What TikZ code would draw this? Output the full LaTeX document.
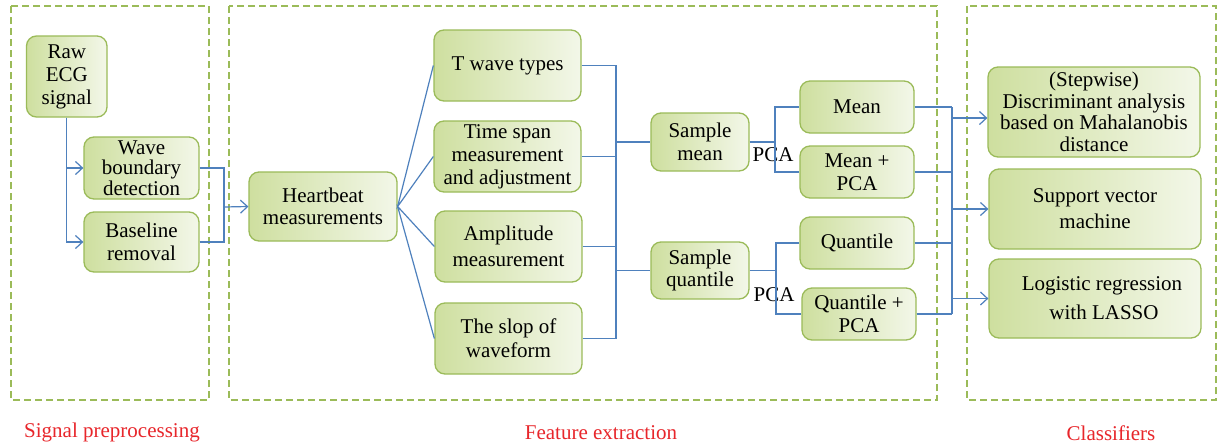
\documentclass[tikz,border=0pt]{standalone}
\usepackage{fontspec}
\newfontfamily\myserif{Liberation Serif}
\usetikzlibrary{arrows.meta}
\definecolor{gborder}{HTML}{9BBB59}
\definecolor{gleft}{HTML}{CEDF9F}
\definecolor{gright}{HTML}{F3F7E9}
\definecolor{conn}{HTML}{4F81BD}
\definecolor{lab}{HTML}{E8262B}
\tikzset{
  box/.style={draw=gborder, line width=1.3pt, rounded corners=10pt, left color=gleft, right color=gright,
    align=center, inner sep=0pt, font=\myserif\fontsize{21}{22.5}\selectfont, text=black},
  frame/.style={draw=gborder, line width=1.1pt, dash pattern=on 7pt off 4pt},
  conn/.style={draw=conn, line width=1.2pt},
  arr/.style={conn, -{Straight Barb[length=7pt,width=13pt,line width=1.2pt]}},
  grouplabel/.style={text=lab, font=\myserif\fontsize{21}{22}\selectfont},
  pcalabel/.style={font=\myserif\fontsize{21}{22}\selectfont, inner sep=0pt}
}
\begin{document}
\begin{tikzpicture}[x=1pt,y=-1pt]
\useasboundingbox[fill=white] (0,0) rectangle (1217,447);
% frames
\draw[frame] (11,6) rectangle (209,400);
\draw[frame] (229,6) rectangle (937,400);
\draw[frame] (967,6) rectangle (1216,400);
% nodes
\node[box, minimum width=80.5pt, minimum height=81pt, font=\myserif\fontsize{21}{23}\selectfont] (raw) at (66.75,76.5) {Raw\\ECG\\signal};
\node[box, minimum width=115pt, minimum height=62pt, font=\myserif\fontsize{21}{20.5}\selectfont] (wave) at (141.5,168) {Wave\\boundary\\detection};
\node[box, minimum width=115pt, minimum height=60pt] (base) at (141.5,242) {Baseline\\removal};
\node[box, minimum width=148pt, minimum height=69pt] (heart) at (323,206.5) {Heartbeat\\measurements};
\node[box, minimum width=147pt, minimum height=71pt] (twave) at (507.5,65.5) {T wave types};
\node[box, minimum width=147pt, minimum height=71pt, font=\myserif\fontsize{21}{23}\selectfont] (time) at (507.5,156.5) {Time span\\measurement\\and adjustment};
\node[box, minimum width=147pt, minimum height=71pt, font=\myserif\fontsize{21}{26}\selectfont] (ampl) at (508.5,246.5) {Amplitude\\measurement};
\node[box, minimum width=147pt, minimum height=71pt, font=\myserif\fontsize{21}{24}\selectfont] (slop) at (508.5,338.5) {The slop of\\waveform};
\node[box, minimum width=98pt, minimum height=58pt] (smean) at (700,142) {Sample\\mean};
\node[box, minimum width=98pt, minimum height=57pt] (squant) at (700,270.5) {Sample\\quantile};
\node[box, minimum width=114pt, minimum height=52pt] (mean) at (857,107) {Mean};
\node[box, minimum width=114pt, minimum height=52pt] (meanpca) at (857,172) {Mean +\\PCA};
\node[box, minimum width=114pt, minimum height=52pt] (quant) at (857,243) {Quantile};
\node[box, minimum width=114pt, minimum height=52pt, font=\myserif\fontsize{21}{23.5}\selectfont] (quantpca) at (859,314) {Quantile +\\PCA};
\node[box, minimum width=212pt, minimum height=90pt, font=\myserif\fontsize{21}{21.5}\selectfont] (step) at (1094,112) {(Stepwise)\\Discriminant analysis\\based on Mahalanobis\\distance};
\node[box, minimum width=212pt, minimum height=80pt, font=\myserif\fontsize{21}{26}\selectfont] (svm) at (1095,209) {Support vector\\machine};
\node[box, minimum width=212pt, minimum height=79pt, font=\myserif\fontsize{21}{29}\selectfont] (logit) at (1095,298.5) {\hspace*{14pt}Logistic regression\\\hspace*{18pt}with LASSO};
% PCA labels
\node[pcalabel] (pca1) at (773,155) {PCA};
\node[pcalabel] (pca2) at (774,295) {PCA};
% group labels
\node[grouplabel] (lab1) at (112,432) {Signal preprocessing};
\node[grouplabel] (lab2) at (601,433) {Feature extraction};
\node[grouplabel] (lab3) at (1111,433) {Classifiers};
% junction coordinates
\coordinate (j1) at (224,207);
\coordinate (j2) at (616,142);
\coordinate (j3) at (616,270.5);
\coordinate (j4) at (775,142);
\coordinate (j5) at (776,270.5);
\coordinate (j6) at (952,107);
\coordinate (j7) at (952,314);
\coordinate (a1) at (952,118);
\coordinate (a2) at (952,209);
\coordinate (a3) at (952,298.5);
% connectors: preprocessing
\draw[arr] (raw.south) |- (wave.west);
\draw[arr] (raw.south) |- (base.west);
\draw[conn] (wave.east) -| (j1);
\draw[conn] (base.east) -| (j1);
\draw[arr] (j1) -- (heart.west);
% heartbeat fan
\draw[conn] (twave.west) -- (heart.east) -- (time.west);
\draw[conn] (ampl.west) -- (heart.east) -- (slop.west);
% to samples
\draw[conn] (twave.east) -| (j2);
\draw[conn] (slop.east) -| (j3);
\draw[conn] (j2) -- (j3);
\draw[conn] (time.east) -- (time.east -| j2);
\draw[conn] (ampl.east) -- (ampl.east -| j2);
\draw[conn] (j2) -- (smean.west);
\draw[conn] (j3) -- (squant.west);
% PCA splits
\draw[conn] (smean.east) -- (j4);
\draw[conn] (j4) |- (mean.west);
\draw[conn] (j4) |- (meanpca.west);
\draw[conn] (squant.east) -- (j5);
\draw[conn] (j5) |- (quant.west);
\draw[conn] (j5) |- (quantpca.west);
% to classifiers
\draw[conn] (mean.east) -- (j6);
\draw[conn] (quantpca.east) -- (j7);
\draw[conn] (j6) -- (j7);
\draw[conn] (meanpca.east) -- (meanpca.east -| j6);
\draw[conn] (quant.east) -- (quant.east -| j6);
\draw[arr] (a1) -- (a1 -| step.west);
\draw[arr] (a2) -- (svm.west);
\draw[arr] (a3) -- (logit.west);
\end{tikzpicture}
\end{document}
